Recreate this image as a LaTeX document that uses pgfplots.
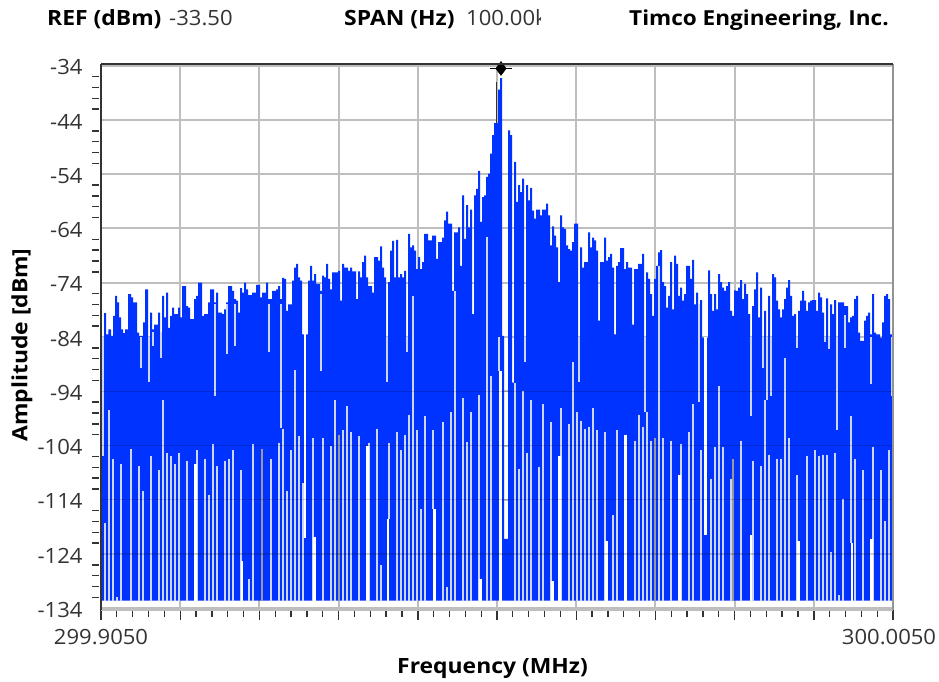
\documentclass[border=0pt]{standalone}
\usepackage{fontspec}
\setmainfont{Open Sans}[FakeStretch=1.05,BoldFeatures={FakeStretch=1.09}]
\usepackage{pgfplots}
\usepackage{pgfplotstable}
\pgfplotsset{compat=1.18}
\definecolor{tr}{HTML}{0033FF}
\definecolor{sl}{HTML}{CAD6FF}
\definecolor{gr}{HTML}{BEBEBE}
\definecolor{tx}{HTML}{333333}
% lower comb: bin, top (dBm), bottom (dBm)
\pgfplotstableread{
b top bot
3.7 -118.2 -132.6
7.7 -97.5 -132.6
11.7 -106.4 -132.6
15.7 -131.9 -132.6
19.7 -107.5 -132.6
29.7 -104.6 -132.6
37.7 -107.8 -132.6
41.7 -112.3 -132.6
49.7 -106 -132.6
57.7 -108.6 -132.6
61.7 -95.7 -132.6
65.7 -105.4 -132.6
69.7 -106 -132.6
73.7 -107.5 -132.6
77.7 -105.4 -132.6
85.7 -106.8 -132.6
95.7 -104.9 -132.6
103.7 -106.4 -132.6
107.7 -113.1 -132.6
111.7 -103.8 -132.6
115.7 -107.8 -132.6
123.7 -106.8 -132.6
127.7 -106.4 -132.6
131.7 -104.9 -132.6
139.7 -108.6 -132.6
147.7 -128.6 -132.6
151.7 -103.8 -132.6
169.7 -106.4 -132.6
177.7 -103.5 -132.6
181.7 -100.9 -132.6
185.7 -112.3 -132.6
189.7 -104.9 -132.6
193.7 -90.1 -132.6
197.7 -102.3 -132.6
201.7 -110.9 -132.6
211.7 -102.7 -132.6
221.7 -102.7 -132.6
229.7 -104.1 -132.6
233.7 -95.7 -132.6
241.7 -101.2 -132.6
245.7 -96.8 -132.6
249.7 -101.5 -132.6
257.7 -102.3 -132.6
268.3 -103.5 -132.6
275.7 -100.9 -132.6
279.7 -126 -132.6
287.7 -103.5 -117.5
295.7 -101.6 -132.6
299.7 -104.9 -132.6
303.7 -102 -132.6
307.7 -98.3 -132.6
311.7 -76.4 -132.6
315.7 -101.2 -132.6
319.7 -115.7 -132.6
323.7 -98.6 -132.6
331.7 -101.2 -115.7
341.7 -99.7 -132.6
345.7 -130 -132.6
349.7 -97.9 -132.6
353.7 -75.5 -132.6
361.7 -95.3 -132.6
365.7 -103.4 -132.6
369.7 -97.9 -132.6
377.7 -94.6 -132.6
385.7 -65.6 -132.6
389.7 -91.2 -132.6
413.7 -92.4 -132.6
417.7 -108.3 -132.6
421.7 -93.9 -132.6
425.7 -105.3 -132.6
429.7 -95.7 -132.6
437.7 -107.9 -132.6
441.7 -96.4 -132.6
449.7 -99.7 -132.6
459.7 -97.1 -132.6
467.7 -100.1 -132.6
471.7 -88.6 -132.6
475.7 -97.9 -132.6
479.7 -99.4 -132.6
483.7 -100.9 -132.6
487.7 -100.5 -132.6
491.7 -97.1 -132.6
495.7 -101.2 -132.6
503.7 -101.6 -132.6
511.7 -116.8 -132.6
515.7 -101.2 -132.6
533.7 -103.1 -132.6
537.7 -98.3 -132.6
541.7 -100.5 -132.6
545.7 -97.9 -132.6
549.7 -103.1 -132.6
557.7 -70.9 -132.6
561.7 -102.7 -132.6
569.7 -103.1 -132.6
579.7 -103.8 -132.6
587.7 -101.6 -132.6
591.7 -96.4 -132.6
599.7 -104.9 -132.6
609.7 -110.1 -132.6
613.7 -104.2 -132.6
617.7 -93.1 -132.6
621.7 -104.2 -132.6
630.3 -110.1 -132.6
639.7 -103.1 -132.6
651.7 -106.8 -132.6
659.7 -107.8 -132.6
663.7 -95.7 -132.6
667.7 -105.7 -132.6
675.7 -106.4 -132.6
679.7 -106.4 -132.6
683.7 -87.9 -132.6
687.7 -102.7 -132.6
695.7 -109.4 -132.6
705.7 -106 -132.6
713.7 -104.9 -132.6
717.7 -106 -132.6
721.7 -105.7 -132.6
725.7 -105.7 -132.6
729.7 -123.7 -132.6
733.7 -105.3 -132.6
737.7 -131.6 -132.6
741.7 -113.8 -132.6
749.7 -98.6 -122
753.7 -106.4 -132.6
761.7 -108.6 -132.6
771.7 -104.2 -132.6
779.7 -108.6 -132.6
783.7 -117.9 -132.6
787.7 -104.9 -132.6
}\combtable
% short gaps hanging from the trace top
\pgfplotstableread{
b top bot
1.7 -84 -106
40.3 -84 -89.7
47.7 -84 -92.3
51.7 -83 -85.6
59.7 -83 -87.9
113.7 -78 -94.9
125.7 -78 -87.1
133.7 -78 -85.6
167.7 -78 -86.7
180.3 -78 -100.7
219.7 -76 -90.3
285.7 -84 -92.3
305.7 -84 -86.7
397.7 -84 -90.2
423.7 -84 -88.6
477.7 -84 -92.3
543.7 -84 -97.8
597.7 -78 -96
649.7 -84 -98.6
661.7 -84 -89.7
665.7 -84 -95.7
669.7 -84 -94.9
695.7 -84 -86
723.7 -84 -85
728 -84 -86.2
735.7 -84 -101.2
743.7 -80 -86
769.7 -84 -92.6
790.7 -84 -94.8
}\hangtable
% wide clear gaps
\pgfplotstableread{
b top bot
94.3 -107.5 -132.6
141 -125.3 -132.6
204 -83.5 -121.1
213.7 -120.8 -132.6
266.3 -104.1 -132.6
287 -117.5 -132.6
333.7 -115.7 -132.6
379.7 -128.6 -132.6
399.7 -90.2 -132.6
451.7 -129 -132.6
458.3 -106 -132.6
505.7 -121.6 -132.6
524.6 -102 -132.6
578.3 -109.4 -132.6
604.3 -84 -120.5
650 -120.5 -132.6
697.7 -121.6 -132.6
751 -122 -132.6
770.3 -121.2 -132.6
}\widetable
% gaps that fall on a grid line
\pgfplotstableread{
b top bot
160.7 -104.6 -132.6
237.7 -102 -132.6
553.7 -102.7 -132.6
631.7 -106.4 -132.6
}\grayslit
\begin{document}
\begin{tikzpicture}
\path[use as bounding box] (0pt,0pt) rectangle (939pt,681pt);
\begin{axis}[
  at={(101pt,71pt)}, anchor=south west,
  width=792pt, height=546pt, scale only axis,
  xmin=0, xmax=792, ymin=-134.32, ymax=-33.68,
  axis line style={draw=none},
  grid=major,
  major grid style={draw=gr, line width=2pt},
  xtick={0,79.2,158.4,237.6,316.8,396,475.2,554.4,633.6,712.8,792},
  xticklabels={299.9050,,,,,,,,,,300.0050\hspace*{8pt}},
  ytick={-134,-124,-114,-104,-94,-84,-74,-64,-54,-44,-34},
  yticklabels={-134,-124,-114,-104,-94,-84,-74,-64,-54,-44,-34},
  minor x tick num=4,
  minor ytick={-36,-38,-40,-42,-46,-48,-50,-52,-56,-58,-60,-62,-66,-68,-70,-72,-76,-78,-80,-82,-86,-88,-90,-92,-96,-98,-100,-102,-106,-108,-110,-112,-116,-118,-120,-122,-126,-128,-130,-132},
  tick align=outside,
  xtick pos=bottom, ytick pos=left,
  major tick length=10pt, minor tick length=7pt,
  major y tick style={draw=none},
  tick style={draw=tx, line width=1.4pt},
  major x tick style={draw=tx, line width=1.4pt},
  minor x tick style={draw=tx, line width=1.3pt},
  minor y tick style={xshift=-2pt},
  tick label style={font=\fontsize{21}{23}\selectfont, text=tx},
  yticklabel style={xshift=-5pt, yshift=-1.5pt},
  xticklabel style={yshift=-6pt},
]
\addplot[const plot, fill=tr, draw=none] coordinates {
(0,-132.6)(0,-84.1)(3,-79.6)(5,-83.5)(7.3,-82.6)(10,-83.8)(12,-80.1)(14,-76.4)(16,-77.6)(18,-80.4)(20,-82.6)(22,-83.3)(24,-82.6)(27,-76.1)(30,-76.7)(32,-77.6)(36,-83.2)(38,-83.8)(42,-81.3)(44,-75.2)(47,-84)(49,-79.5)(51,-82.6)(53,-81.7)(57,-79.5)(59,-83.5)(61,-76.4)(63,-80.4)(65,-75.8)(67,-82.3)(69,-80.1)(71,-78.6)(73,-79.8)(77,-78.6)(79,-80.4)(81,-74.6)(85,-78.3)(87,-78.6)(89,-80.7)(93,-77)(95,-76.4)(97,-74)(101,-80.1)(103,-79.8)(107,-77.6)(109,-75.2)(113,-77.6)(115,-75.8)(117,-79.5)(121,-79.8)(123,-78.9)(125,-77.6)(127,-74.6)(131,-75.5)(133,-77)(135,-77.3)(137,-79.5)(139,-75)(141,-75.8)(143,-74)(145,-75.2)(147,-76.3)(151,-75.8)(155,-74.4)(159,-76.7)(161,-75.8)(165,-74)(167,-77)(171,-75.5)(175,-75.2)(177,-74.6)(179,-77)(181,-73.1)(183,-73.3)(185,-79.2)(187,-78)(191,-73.6)(193,-71.2)(195,-70.5)(197,-73)(199,-73.6)(201,-83.5)(207,-73.6)(209,-70.9)(211,-73.6)(213,-72.4)(215,-74.2)
(219,-75.5)(221,-72.7)(223,-73)(225,-70.5)(227,-73.3)(229,-75.2)(231,-72.1)(237,-71.8)(239,-77.3)(241,-70.5)(243,-71.2)(247,-71.8)(249,-71.2)(251,-71.9)(255,-77)(257,-71.9)(259,-73)(261,-70.2)(263,-69)(265,-73)(267,-74.6)(271,-75.8)(273,-69.3)(277,-69.9)(279,-67.3)(281,-71.2)(283,-73)(285,-84.7)(287,-73.9)(289,-68.1)(291,-66.3)(293,-73)(295,-66.1)(297,-73)(299,-72.4)(301,-73)(303,-71.8)(305,-84.1)(307,-65)(309,-67.5)(311,-67.1)(313,-68.1)(315,-71.5)(317,-69.3)(319,-71.5)(321,-70.2)(323,-65)(327,-66.2)(331,-65.3)(335,-69.6)(337,-66.5)(341,-65.7)(343,-62.5)(345,-60.9)(347,-63.1)(351,-75.5)(353,-64.7)(357,-63.8)(359,-70.9)(361,-57.9)(363,-65.9)(365,-59.7)(367,-63.8)(369,-60.5)(371,-79.8)(373,-57.9)(375,-56.7)(377,-53.4)(379,-62.8)(381,-58.2)(383,-57.9)(385,-54.5)(387,-53.9)(389,-50.2)(391,-46.8)(393,-44.6)(397,-38.4)(399,-36.3)(401,-83.8)(403,-121.2)(407,-45.9)(409,-46.8)(411,-92.4)(413,-51.7)(415,-59.1)(417,-56)(419,-57.3)(421,-54.8)(423,-84.1)(425,-56)(427,-58.8)(429,-56.5)(431,-60.7)(433,-62.2)(435,-60.5)(439,-61.6)(441,-60.5)(445,-59.4)(447,-61.6)(449,-67.1)(451,-63.6)(453,-65.3)(455,-67.5)(457,-73.9)(459,-61.6)(461,-63.8)(463,-64.1)(465,-67.1)(467,-67.8)(469,-68.1)(471,-66.5)(473,-63.1)(477,-84.1)(479,-67.5)(481,-71.2)(483,-70.2)(487,-64.7)(489,-67.5)(491,-65.7)(493,-66.2)(495,-68.1)(497,-81)(499,-70.2)(503,-65.7)(505,-69.9)(507,-69.3)(509,-68.7)(511,-71.2)(513,-83.5)(515,-70.9)(517,-70.2)
(519,-67.6)(523,-71.5)(525,-70.2)(527,-71.2)(531,-81.7)(533,-71.5)(537,-70.5)(541,-68.7)(543,-84.1)(545,-72.1)(547,-73.3)(549,-76.1)(551,-80.1)(553,-73.3)(555,-70.9)(557,-68.4)(559,-68)(561,-73.9)(563,-74.6)(565,-78.6)(567,-76.4)(569,-70.2)(571,-78.9)(573,-69)(575,-70.5)(577,-76.4)(579,-74.9)(581,-77.3)(583,-76.1)(585,-70.9)(589,-73.3)(591,-69.8)(593,-78)(595,-75.8)(597,-78)(599,-77.2)(601,-84.1)(607,-71.7)(609,-76.1)(611,-79.2)(613,-76.1)(615,-78.9)(617,-72.4)(619,-73.9)(621,-74.9)(623,-75.5)(625,-74.6)(627,-73.9)(629,-79.2)(631,-80.1)(633,-75.4)(635,-75.5)(637,-74.9)(639,-73.5)(641,-77)(643,-74.2)(645,-76.1)(647,-79.8)(649,-84.1)(651,-78.3)(653,-75.2)(655,-72.1)(657,-80.4)(659,-74.9)(661,-84.1)(663,-79.2)(665,-84.1)(667,-76.4)(669,-84.1)(671,-72.4)(673,-73)(675,-77.3)(677,-78.9)(679,-80.4)(681,-78.9)(683,-77)(685,-74.9)(687,-73.5)(689,-76.4)(691,-80.1)(693,-79.8)(695,-84.1)(697,-79.2)(699,-77.3)(701,-75.5)(703,-77.3)(705,-79.2)(707,-77.6)(709,-77.3)(711,-77.2)(715,-79.2)(717,-75.8)(719,-76.7)(721,-79.5)(723,-84.1)(725,-76.9)(727,-84.1)(729,-78)(731,-79.8)(733,-77.2)(735,-84.1)(737,-77.6)(743,-78.3)(747,-81.3)(749,-80.4)(751,-80.1)(753,-77)(755,-76.4)(757,-83.2)(759,-84.7)(763,-81)(765,-80.1)(767,-79.5)(769,-83.5)(771,-76.1)(773,-83.2)(775,-83.5)(779,-84.1)(781,-81.3)(783,-76.4)(785,-76.1)(787,-77)(789,-83.5)(792,-83.5)(792,-132.6)
};
\addplot[draw=none, mark=none, forget plot, error bars/.cd, y dir=minus, y explicit, error mark=none, error bar style={draw=sl, line width=1.9pt}]
  table[x=b, y=top, y error expr=\thisrow{top}-\thisrow{bot}] {\combtable};
\addplot[draw=none, mark=none, forget plot, error bars/.cd, y dir=minus, y explicit, error mark=none, error bar style={draw=sl, line width=1.9pt}]
  table[x=b, y=top, y error expr=\thisrow{top}-\thisrow{bot}] {\hangtable};
\addplot[draw=none, mark=none, forget plot, error bars/.cd, y dir=minus, y explicit, error mark=none, error bar style={draw=white, line width=2.6pt}]
  table[x=b, y=top, y error expr=\thisrow{top}-\thisrow{bot}] {\widetable};
\addplot[draw=none, mark=none, forget plot, error bars/.cd, y dir=minus, y explicit, error mark=none, error bar style={draw=gray!80, line width=1.8pt}]
  table[x=b, y=top, y error expr=\thisrow{top}-\thisrow{bot}] {\grayslit};
% grid lines showing faintly through the trace
\addplot[draw=black, opacity=.18, line width=1.2pt] coordinates {(0,-94)(792,-94)};
\addplot[draw=black, opacity=.18, line width=1.2pt] coordinates {(0,-104)(792,-104)};
\addplot[draw=black, opacity=.18, line width=1.2pt] coordinates {(0,-114)(792,-114)};
\addplot[draw=black, opacity=.18, line width=1.2pt] coordinates {(0,-124)(792,-124)};
% marker on the peak
\addplot[draw=tx, line width=1.2pt] coordinates {(395.7,-44.6)(395.7,-37)};
\addplot[only marks, mark=diamond*, mark size=7pt, mark options={fill=black, draw=black}, clip=false] coordinates {(400,-34.5)};
\addplot[only marks, mark=-, mark size=11pt, mark options={draw=black, line width=1.2pt}, clip=false] coordinates {(400,-34.5)};
\end{axis}
\draw[draw=gr, line width=2pt] (101pt,71pt)--(893pt,71pt);
\draw[draw=gray!85, line width=2pt] (893pt,71pt)--(893pt,617pt);
\draw[draw=tx, line width=1.6pt] (101pt,617pt)--(893pt,617pt);
\draw[draw=tx, line width=1.6pt] (101pt,71pt)--(101pt,617pt);
\node[anchor=base west, inner sep=0pt, text=black] at (47pt,655pt) {\fontsize{21}{23}\selectfont\bfseries REF (dBm)};
\node[anchor=base west, inner sep=0pt, text=tx] at (169pt,655pt) {\fontsize{21}{23}\selectfont -33.50};
\node[anchor=base west, inner sep=0pt, text=black] at (344pt,655pt) {\fontsize{21}{23}\selectfont\bfseries SPAN (Hz)};
\begin{scope}
\clip (460pt,640pt) rectangle (540pt,681pt);
\node[anchor=base west, inner sep=0pt, text=tx] at (466pt,655pt) {\fontsize{21}{23}\selectfont 100.00k};
\end{scope}
\node[anchor=base west, inner sep=0pt, text=black] at (629pt,655pt) {\fontsize{20.7}{23}\selectfont\bfseries Timco Engineering, Inc.};
\node[rotate=90, inner sep=0pt, text=black] at (22pt,336pt) {\fontsize{21}{23}\selectfont\bfseries Amplitude [dBm]};
\node[inner sep=0pt, text=black] at (492.5pt,12pt) {\fontsize{21}{23}\selectfont\bfseries Frequency (MHz)};
\end{tikzpicture}
\end{document}
